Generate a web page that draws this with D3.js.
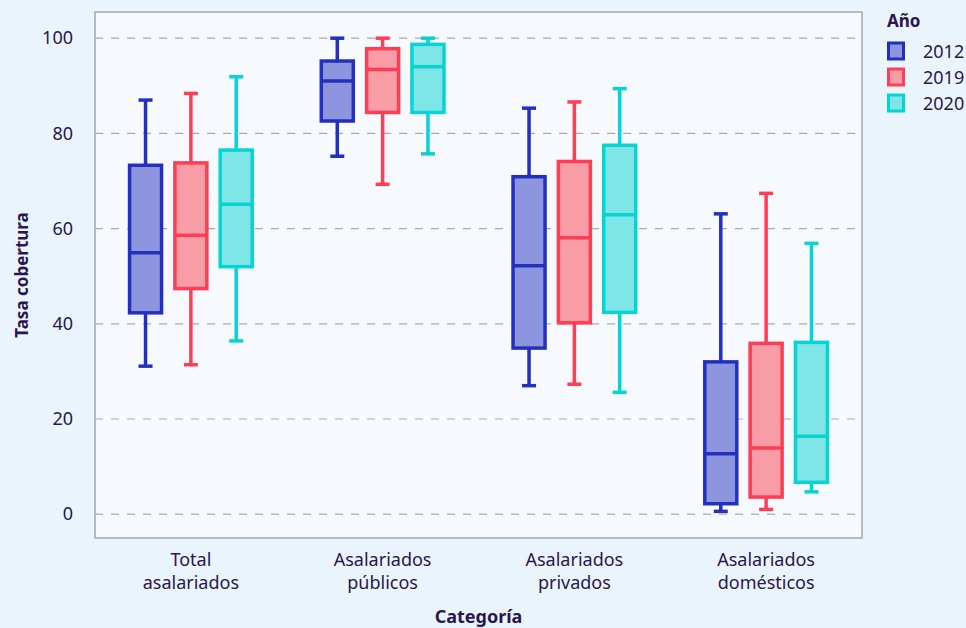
<!DOCTYPE html>
<html>
<head>
<meta charset="utf-8">
<script src="https://cdn.jsdelivr.net/npm/d3@7"></script>
<style>
  html, body { margin: 0; padding: 0; background: #EAF4FC; }
  svg { display: block; }
  text { font-family: "Noto Sans", "Open Sans", sans-serif; fill: #2A1650; }
</style>
</head>
<body>
<svg id="chart" width="966" height="628"></svg>
<script>
// Categories (two-line labels) and the years compared within each
const categories = ["Total asalariados", "Asalariados públicos", "Asalariados privados", "Asalariados domésticos"];
const categoryLines = [["Total", "asalariados"], ["Asalariados", "públicos"], ["Asalariados", "privados"], ["Asalariados", "domésticos"]];
const years = ["2012", "2019", "2020"];

// Five-number summaries per year, one entry per category: [min, q1, median, q3, max]
const stats2012 = [
  [31.1, 42.3, 54.9, 73.3, 87.0],
  [75.2, 82.6, 91.0, 95.2, 100.0],
  [27.0, 34.9, 52.2, 70.9, 85.3],
  [0.6, 2.2, 12.7, 32.0, 63.1]
];
const stats2019 = [
  [31.4, 47.4, 58.6, 73.8, 88.4],
  [69.3, 84.4, 93.4, 97.8, 100.0],
  [27.3, 40.2, 58.1, 74.1, 86.6],
  [1.0, 3.6, 13.9, 35.9, 67.4]
];
const stats2020 = [
  [36.4, 52.0, 65.1, 76.5, 91.9],
  [75.7, 84.4, 94.0, 98.7, 100.0],
  [25.6, 42.4, 62.9, 77.5, 89.4],
  [4.7, 6.7, 16.4, 36.1, 56.9]
];
const yTicks = [0, 20, 40, 60, 80, 100];

const strokeColors = ["#2330BE", "#FF3D54", "#08D3D3"];
const fillColors = ["#8C95DE", "#F89DA6", "#7FE6E8"];

const series = [stats2012, stats2019, stats2020];
const rows = [];
categories.forEach((c, i) => {
  years.forEach((yr, j) => {
    const s = series[j][i];
    rows.push({ category: c, year: yr, min: s[0], q1: s[1], median: s[2], q3: s[3], max: s[4] });
  });
});

const svg = d3.select("#chart");
const margin = { left: 95, right: 104, top: 12, bottom: 90 };
const W = 966, H = 628;
const plotW = W - margin.left - margin.right;
const plotH = H - margin.top - margin.bottom;

const g = svg.append("g").attr("transform", `translate(${margin.left},${margin.top})`);

const x = d3.scaleBand().domain(categories).range([0, plotW]).paddingInner(0).paddingOuter(0);
const xi = d3.scaleBand().domain(years).range([x.bandwidth() / 2 - 68, x.bandwidth() / 2 + 68]).padding(0);
const y = d3.scaleLinear().domain([-5, 105.5]).range([plotH, 0]);
const color = d3.scaleOrdinal().domain(years).range(strokeColors);
const fill = d3.scaleOrdinal().domain(years).range(fillColors);

// panel background
g.append("rect").attr("x", 0).attr("y", 0).attr("width", plotW).attr("height", plotH)
  .attr("fill", "#F6FAFE");

// dashed grid lines
g.append("g").selectAll("line").data(yTicks).join("line")
  .attr("x1", 0).attr("x2", plotW)
  .attr("y1", d => y(d)).attr("y2", d => y(d))
  .attr("stroke", "#A9A9AB").attr("stroke-width", 1.2)
  .attr("stroke-dasharray", "8,8");

// y axis labels
const yAxis = g.append("g").call(d3.axisLeft(y).tickValues(yTicks).tickSize(0).tickPadding(22));
yAxis.select(".domain").remove();
yAxis.selectAll("text").style("font-size", "18px").attr("fill", "#2A1650");

// x axis labels (two lines)
const xAxis = g.append("g").attr("transform", `translate(0,${plotH})`);
xAxis.selectAll("text").data(categories).join("text")
  .attr("text-anchor", "middle")
  .attr("x", d => x(d) + x.bandwidth() / 2)
  .attr("y", 28)
  .style("font-size", "18px")
  .each(function(d, i) {
    const t = d3.select(this);
    categoryLines[i].forEach((line, k) => {
      t.append("tspan").attr("x", x(d) + x.bandwidth() / 2).attr("dy", k === 0 ? 0 : 23).text(line);
    });
  });

// boxes
const boxW = 32, capW = 14;
const groups = g.append("g").selectAll("g").data(rows).join("g")
  .attr("transform", d => `translate(${x(d.category) + xi(d.year) + xi.bandwidth() / 2},0)`);

groups.append("line")
  .attr("x1", 0).attr("x2", 0)
  .attr("y1", d => y(d.max)).attr("y2", d => y(d.q3))
  .attr("stroke", d => color(d.year)).attr("stroke-width", 3.5);
groups.append("line")
  .attr("x1", 0).attr("x2", 0)
  .attr("y1", d => y(d.q1)).attr("y2", d => y(d.min))
  .attr("stroke", d => color(d.year)).attr("stroke-width", 3.5);
groups.append("line")
  .attr("x1", -capW / 2).attr("x2", capW / 2)
  .attr("y1", d => y(d.max)).attr("y2", d => y(d.max))
  .attr("stroke", d => color(d.year)).attr("stroke-width", 3.5);
groups.append("line")
  .attr("x1", -capW / 2).attr("x2", capW / 2)
  .attr("y1", d => y(d.min)).attr("y2", d => y(d.min))
  .attr("stroke", d => color(d.year)).attr("stroke-width", 3.5);
groups.append("rect")
  .attr("x", -boxW / 2).attr("width", boxW)
  .attr("y", d => y(d.q3)).attr("height", d => y(d.q1) - y(d.q3))
  .attr("fill", d => fill(d.year))
  .attr("stroke", d => color(d.year)).attr("stroke-width", 3.5);
groups.append("line")
  .attr("x1", -boxW / 2).attr("x2", boxW / 2)
  .attr("y1", d => y(d.median)).attr("y2", d => y(d.median))
  .attr("stroke", d => color(d.year)).attr("stroke-width", 3.5);

// panel border
g.append("rect").attr("x", 0).attr("y", 0).attr("width", plotW).attr("height", plotH)
  .attr("fill", "none").attr("stroke", "#A8A8A8").attr("stroke-width", 1.5);

// axis titles
svg.append("text")
  .attr("transform", `translate(28,${margin.top + plotH / 2}) rotate(-90)`)
  .attr("text-anchor", "middle")
  .style("font-size", "17px").style("font-weight", "bold")
  .text("Tasa cobertura");
svg.append("text")
  .attr("x", margin.left + plotW / 2).attr("y", 623)
  .attr("text-anchor", "middle")
  .style("font-size", "18px").style("font-weight", "bold")
  .text("Categoría");

// legend
const legend = svg.append("g").attr("transform", "translate(887,0)");
legend.append("text").attr("x", 0).attr("y", 27)
  .style("font-size", "17px").style("font-weight", "bold").text("Año");
const items = legend.selectAll("g.item").data(years).join("g")
  .attr("class", "item")
  .attr("transform", (d, i) => `translate(0,${43 + i * 26})`);
items.append("rect").attr("x", 1.5).attr("y", 0).attr("width", 15).attr("height", 16)
  .attr("fill", d => fill(d)).attr("stroke", d => color(d)).attr("stroke-width", 3);
items.append("text").attr("x", 36).attr("y", 15)
  .style("font-size", "18px").text(d => d);
</script>
</body>
</html>
